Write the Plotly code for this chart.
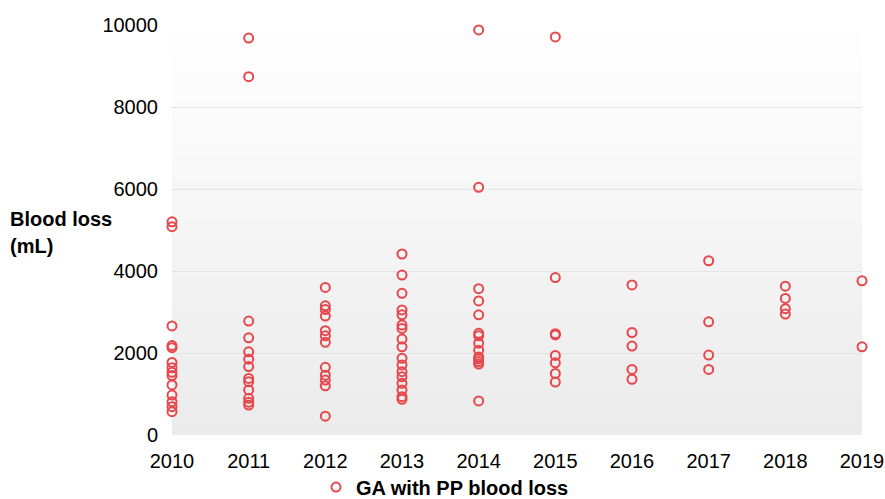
import plotly.graph_objects as go

# ---- data ----
years = [2010, 2011, 2012, 2013, 2014, 2015, 2016, 2017, 2018, 2019]
blood_loss = {
    2010: [5200, 5080, 2660, 2180, 2130, 1770, 1640, 1530, 1450, 1220, 975, 810, 690, 570],
    2011: [9680, 8740, 2780, 2370, 2030, 1850, 1670, 1380, 1300, 1100, 895, 800, 730],
    2012: [3600, 3150, 3060, 2900, 2545, 2420, 2260, 1650, 1460, 1340, 1200, 460],
    2013: [4415, 3900, 3455, 3050, 2930, 2680, 2600, 2340, 2150, 1870, 1710, 1545, 1420, 1260, 1100, 935, 870],
    2014: [9880, 6040, 3570, 3270, 2930, 2480, 2420, 2240, 2070, 1900, 1860, 1790, 1730, 830],
    2015: [9710, 3840, 2470, 2440, 1940, 1760, 1500, 1290],
    2016: [3660, 2500, 2170, 1600, 1360],
    2017: [4250, 2760, 1950, 1600],
    2018: [3630, 3330, 3080, 2950],
    2019: [3760, 2150],
}
series_name = "GA with PP blood loss"
y_ticks = [0, 2000, 4000, 6000, 8000, 10000]

xs, ys = [], []
for yr in years:
    for v in blood_loss[yr]:
        xs.append(yr)
        ys.append(v)

red = "#e6474c"
font_family = "Liberation Sans, Arial, Helvetica, sans-serif"

fig = go.Figure()
fig.add_trace(go.Scatter(
    x=xs, y=ys, mode="markers", name=series_name,
    marker=dict(symbol="circle-open", size=9, color=red, line=dict(width=2, color=red)),
    cliponaxis=False,
))

# subtle vertical gradient background of the plot area
shapes = []
n = 60
top = (255, 255, 255)
bot = (235, 235, 235)
for i in range(n):
    t = (i + 0.5) / n
    c = tuple(round(top[k] + (bot[k] - top[k]) * t) for k in range(3))
    shapes.append(dict(
        type="rect", xref="paper", yref="paper",
        x0=0, x1=1, y0=1 - (i + 1) / n, y1=1 - i / n + 0.002,
        fillcolor="rgb(%d,%d,%d)" % c, line=dict(width=0), layer="below",
    ))

fig.update_layout(
    width=885, height=499,
    margin=dict(l=172, r=23, t=25, b=64, autoexpand=False),
    paper_bgcolor="white", plot_bgcolor="rgba(0,0,0,0)",
    font=dict(family=font_family, size=20, color="black"),
    shapes=shapes,
    showlegend=True,
    legend=dict(
        orientation="h", x=0.2087, xanchor="left", y=-0.127, yanchor="middle",
        font=dict(size=20, color="black", family=font_family, weight="bold"),
        bgcolor="rgba(0,0,0,0)",
    ),
    annotations=[
        dict(text="<b>Blood loss</b>", xref="paper", yref="paper",
             x=-0.2375, y=0.527, xanchor="left", yanchor="middle", showarrow=False,
             font=dict(size=20, color="black")),
        dict(text="<b>(mL)</b>", xref="paper", yref="paper",
             x=-0.2375, y=0.460, xanchor="left", yanchor="middle", showarrow=False,
             font=dict(size=20, color="black")),
    ],
)
fig.update_xaxes(
    range=[2010, 2019], tickmode="array", tickvals=years, ticktext=[str(y) for y in years],
    showgrid=False, zeroline=False, showline=False, ticks="", ticklabelstandoff=12,
    automargin=False,
)
fig.update_yaxes(
    range=[0, 10000], tickmode="array", tickvals=y_ticks, ticktext=[str(v) for v in y_ticks],
    showgrid=True, gridcolor="#e3e3e3", gridwidth=1, zeroline=False, showline=False,
    ticks="", ticklabelstandoff=13, automargin=False,
)

fig.write_html(
    "out.html",
    config={"displayModeBar": False},
    post_script="document.body.style.margin='0px';document.body.style.overflow='hidden';",
)
